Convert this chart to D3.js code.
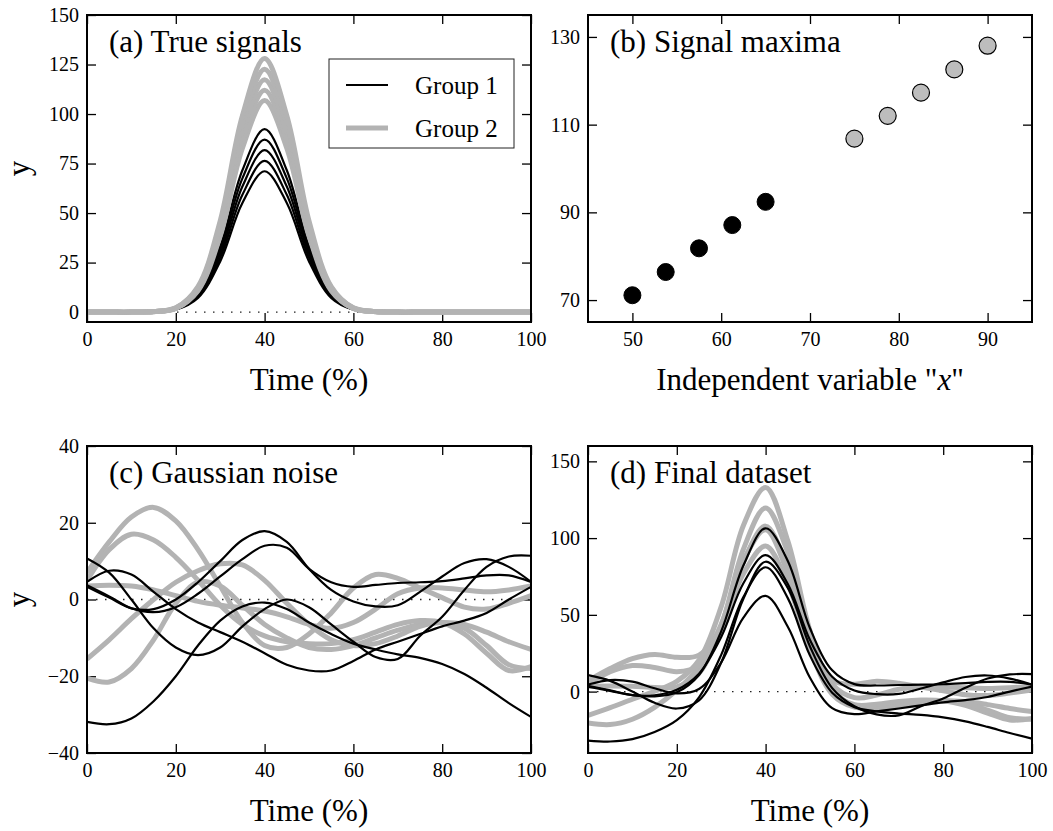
<!DOCTYPE html>
<html>
<head>
<meta charset="utf-8">
<script src="https://cdn.jsdelivr.net/npm/d3@7"></script>
<style>
body { margin: 0; background: #fff; }
text { font-family: "Liberation Serif", "Times New Roman", serif; fill: #000; }
</style>
</head>
<body>
<div id="chart"></div>
<script>
// ---- data ----
// sampling times of every curve (% of the cycle)
var timePts = [0, 5, 10, 15, 20, 25, 30, 35, 40, 45, 50, 55, 60, 65, 70, 75, 80, 85, 90, 95, 100];
// normalised shape of the true pulse (peak = 1 at 40 %)
var pulseShape = [0, 0, 0, 0.002, 0.017, 0.101, 0.36, 0.775, 1, 0.775, 0.36, 0.101, 0.017, 0.002, 0, 0, 0, 0, 0, 0, 0];

// signal maxima and the independent variable "x"
var group1X = [50, 53.75, 57.5, 61.25, 65];
var group1Max = [71.1, 76.4, 81.8, 87.1, 92.4];
var group2X = [75, 78.75, 82.5, 86.25, 90];
var group2Max = [106.8, 112.0, 117.3, 122.6, 128.0];

// smooth gaussian noise, one row per observation (same order as the maxima)
var group1Noise = [
    [3.3, 0.5, -2.3, -2.5, 0, 4.5, 10, 15.5, 17.8, 15, 8, 2.5, -0.5, -1.8, -1.5, 2, 6, 9.5, 10.5, 8.5, 4.6],
    [4.6, 7.5, 6.5, 2, -2.5, -6, -8.5, -11, -14, -17, -18.5, -18.5, -16, -13, -11, -9, -7, -5.5, -3.5, 0, 3.3],
    [-31.9, -32.5, -31, -26.5, -20, -12, -5.5, -1.8, -0.8, -2.5, -6, -9, -11.5, -13, -14.3, -15.2, -16.8, -19.4, -23, -27, -30.6],
    [10.7, 7, 0, -7.5, -12.5, -14.5, -12.5, -7, -2.5, 0, -2, -6.5, -11, -15, -15.5, -9.5, -4.5, 2.5, 8.5, 11.2, 11.4],
    [3.7, 0.8, -2.3, -3.3, -2, 1.5, 6, 10.5, 14, 13.5, 8, 4.5, 3.3, 3.8, 4.3, 4.5, 4.8, 5.5, 6.3, 6.3, 4.6]
];
var group2Noise = [
    [7, 15, 21.5, 24, 20.5, 13, 3.5, -6, -12, -12.5, -9, -3.5, 3, 6.5, 5.5, 3, 0.5, -2, -2.5, -1, 1],
    [-20.5, -21.5, -18, -10.5, -1, 4.5, 3.5, -1.5, -6.5, -10, -12.5, -13, -12, -10, -8, -6.5, -6, -6.5, -8.5, -11, -13],
    [5, 13, 17, 15.5, 11, 5, -1.5, -6.5, -9.5, -11, -11.5, -11.5, -10.5, -8.5, -6.5, -5.5, -6, -9, -14, -18.5, -17.5],
    [3.5, 3.7, 3.5, 2.5, 1, -0.5, -1.5, -2.2, -3, -4.5, -6.5, -7.5, -6, -2.5, 1.5, 3, 3, 2.5, 2, 2.5, 3.5],
    [-15.5, -10.5, -5, 0, 4.5, 7.5, 9.3, 9, 5, -1, -6.5, -10.5, -12, -11.5, -9.5, -7, -6, -7.5, -12, -17, -18]
];

// tick values
var timeTicks = [0, 20, 40, 60, 80, 100];
var aYTicks = [0, 25, 50, 75, 100, 125, 150];
var bXTicks = [50, 60, 70, 80, 90];
var bYTicks = [70, 90, 110, 130];
var cYTicks = [-40, -20, 0, 20, 40];
var dYTicks = [0, 50, 100, 150];
var legendLabels = ["Group 1", "Group 2"];

// ---- drawing ----
var W = 1053, H = 831;
var black = "#000", grey = "#b3b3b3";

var svg = d3.select("#chart").append("svg")
    .attr("width", W)
    .attr("height", H);

var fmt = function(d) { return d < 0 ? "\u2212" + Math.abs(d) : String(d); };

function makePanel(box, xDom, yDom, xTicks, yTicks) {
    var g = svg.append("g");
    var x = d3.scaleLinear().domain(xDom).range([box.x0, box.x1]);
    var y = d3.scaleLinear().domain(yDom).range([box.y1, box.y0]);
    var tk = 9;

    var axes = [
        d3.axisBottom(x).tickValues(xTicks).tickFormat(fmt).tickSizeInner(-tk).tickSizeOuter(0).tickPadding(10),
        d3.axisTop(x).tickValues(xTicks).tickFormat("").tickSizeInner(-tk).tickSizeOuter(0),
        d3.axisLeft(y).tickValues(yTicks).tickFormat(fmt).tickSizeInner(-tk).tickSizeOuter(0).tickPadding(8),
        d3.axisRight(y).tickValues(yTicks).tickFormat("").tickSizeInner(-tk).tickSizeOuter(0)
    ];
    var pos = [
        "translate(0," + box.y1 + ")",
        "translate(0," + box.y0 + ")",
        "translate(" + box.x0 + ",0)",
        "translate(" + box.x1 + ",0)"
    ];
    axes.forEach(function(ax, i) {
        var a = g.append("g").attr("transform", pos[i]).call(ax);
        a.select(".domain").remove();
        a.selectAll("line").attr("stroke", "#000").attr("stroke-width", 1.3);
        a.selectAll("text")
            .style("font-family", '"Liberation Serif", serif')
            .style("font-size", "20px")
            .attr("fill", "#000");
    });

    var clipId = "clip" + Math.round(box.x0) + "_" + Math.round(box.y0);
    svg.append("clipPath").attr("id", clipId)
        .append("rect")
        .attr("x", box.x0).attr("y", box.y0)
        .attr("width", box.x1 - box.x0).attr("height", box.y1 - box.y0);

    var plot = g.append("g").attr("clip-path", "url(#" + clipId + ")");

    return { g: g, plot: plot, x: x, y: y, box: box };
}

function frame(p) {
    p.g.append("rect")
        .attr("x", p.box.x0).attr("y", p.box.y0)
        .attr("width", p.box.x1 - p.box.x0).attr("height", p.box.y1 - p.box.y0)
        .attr("fill", "none").attr("stroke", "#000").attr("stroke-width", 2);
}

function title(p, txt) {
    p.g.append("text")
        .attr("x", p.box.x0 + 22).attr("y", p.box.y0 + 37)
        .style("font-size", "31px")
        .text(txt);
}

function xLabel(p, txt) {
    return p.g.append("text")
        .attr("x", (p.box.x0 + p.box.x1) / 2).attr("y", p.box.y1 + 68)
        .attr("text-anchor", "middle")
        .style("font-size", "31px")
        .text(txt);
}

function yLabel(p, txt) {
    p.g.append("text")
        .attr("transform", "translate(29," + ((p.box.y0 + p.box.y1) / 2) + ") rotate(-90)")
        .attr("text-anchor", "middle")
        .style("font-size", "31px")
        .text(txt);
}

function zeroLine(p) {
    p.plot.append("line")
        .attr("x1", p.box.x0).attr("x2", p.box.x1)
        .attr("y1", p.y(0)).attr("y2", p.y(0))
        .attr("stroke", "#222").attr("stroke-width", 1.3)
        .attr("stroke-dasharray", "1.5,7.5");
}

function curve(p, vals, col, w) {
    var line = d3.line()
        .x(function(d, i) { return p.x(timePts[i]); })
        .y(function(d) { return p.y(d); })
        .curve(d3.curveCatmullRom.alpha(0.5));
    p.plot.append("path")
        .datum(vals)
        .attr("d", line)
        .attr("fill", "none")
        .attr("stroke", col)
        .attr("stroke-width", w)
        .attr("stroke-linejoin", "round");
}

var boxA = { x0: 87, x1: 531, y0: 15, y1: 322 };
var boxB = { x0: 588, x1: 1032, y0: 15, y1: 322 };
var boxC = { x0: 87, x1: 531, y0: 446, y1: 753 };
var boxD = { x0: 588, x1: 1032, y0: 446, y1: 753 };

var signal = function(amp) { return pulseShape.map(function(s) { return amp * s; }); };

// (a) true signals
var pA = makePanel(boxA, [0, 100], [-5, 150], timeTicks, aYTicks);
zeroLine(pA);
group1Max.forEach(function(a) { curve(pA, signal(a), black, 2.2); });
group2Max.forEach(function(a) { curve(pA, signal(a), grey, 5); });
frame(pA);
title(pA, "(a) True signals");
xLabel(pA, "Time (%)");
yLabel(pA, "y");

// legend
var lg = pA.g.append("g");
lg.append("rect")
    .attr("x", 329).attr("y", 59).attr("width", 185).attr("height", 89)
    .attr("fill", "#fff").attr("stroke", "#222").attr("stroke-width", 1);
legendLabels.forEach(function(lab, i) {
    var yy = 85 + i * 43;
    lg.append("line")
        .attr("x1", 346).attr("x2", 388).attr("y1", yy).attr("y2", yy)
        .attr("stroke", i === 0 ? black : grey)
        .attr("stroke-width", i === 0 ? 2.2 : 5);
    lg.append("text")
        .attr("x", 415).attr("y", yy + 9)
        .style("font-size", "25px")
        .text(lab);
});

// (b) signal maxima
var pB = makePanel(boxB, [45, 95], [65, 135], bXTicks, bYTicks);
pB.plot.selectAll("circle.g1")
    .data(group1X)
    .enter().append("circle")
    .attr("cx", function(d) { return pB.x(d); })
    .attr("cy", function(d, i) { return pB.y(group1Max[i]); })
    .attr("r", 8.5)
    .attr("fill", "#000").attr("stroke", "#000").attr("stroke-width", 1);
pB.plot.selectAll("circle.g2")
    .data(group2X)
    .enter().append("circle")
    .attr("cx", function(d) { return pB.x(d); })
    .attr("cy", function(d, i) { return pB.y(group2Max[i]); })
    .attr("r", 8.5)
    .attr("fill", "#bdbdbd").attr("stroke", "#000").attr("stroke-width", 1.2);
frame(pB);
title(pB, "(b) Signal maxima");
var bl = xLabel(pB, "");
bl.append("tspan").text('Independent variable "');
bl.append("tspan").style("font-style", "italic").text("x");
bl.append("tspan").text('"');

// (c) gaussian noise
var pC = makePanel(boxC, [0, 100], [-40, 40], timeTicks, cYTicks);
zeroLine(pC);
group2Noise.forEach(function(n) { curve(pC, n, grey, 5); });
group1Noise.forEach(function(n) { curve(pC, n, black, 2.2); });
frame(pC);
title(pC, "(c) Gaussian noise");
xLabel(pC, "Time (%)");
yLabel(pC, "y");

// (d) final dataset = signal + noise
var pD = makePanel(boxD, [0, 100], [-40, 160], timeTicks, dYTicks);
zeroLine(pD);
group2Noise.forEach(function(n, k) {
    var s = signal(group2Max[k]);
    curve(pD, n.map(function(v, i) { return v + s[i]; }), grey, 5);
});
group1Noise.forEach(function(n, k) {
    var s = signal(group1Max[k]);
    curve(pD, n.map(function(v, i) { return v + s[i]; }), black, 2.2);
});
frame(pD);
title(pD, "(d) Final dataset");
xLabel(pD, "Time (%)");
</script>
</body>
</html>
